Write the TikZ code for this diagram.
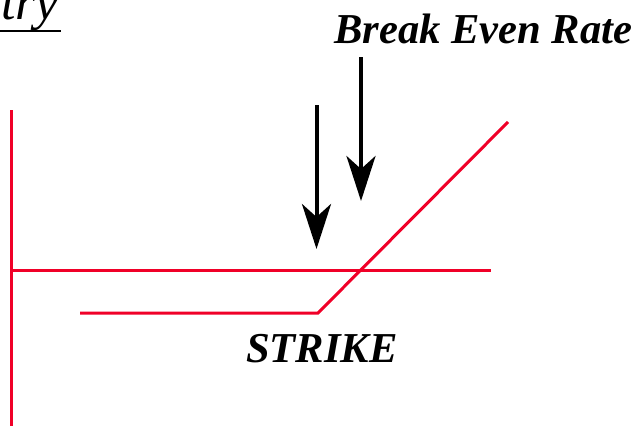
\documentclass[tikz,border=0pt]{standalone}
\usepackage{fontspec}
\setmainfont{Liberation Serif}
\usetikzlibrary{arrows.meta}
\definecolor{payred}{RGB}{240,0,40}
\tikzset{
  payline/.style={draw=payred, line width=3pt},
  downarrow/.style={draw=black, line width=4pt, -{Stealth[length=45pt, width=29pt, inset=13pt]}},
  lbl/.style={font=\fontsize{42.6}{43}\selectfont\bfseries\itshape, inner sep=0pt}
}
\begin{document}
\begin{tikzpicture}[x=1pt, y=-1pt]
\useasboundingbox (0,0) rectangle (637,426);
% title fragment
\node[font=\fontsize{52}{52}\selectfont\itshape, inner sep=0pt, anchor=base east] (title) at (59,19.5) {try};
\coordinate (ulL) at (0,31);
\coordinate (ulR) at (61,31);
\draw[line width=2.5pt] (ulL) -- (ulR);
% axes
\coordinate (vtop) at (11,110);
\coordinate (vbot) at (11,426);
\coordinate (hL) at (11,270);
\coordinate (hR) at (491,270);
\draw[payline] (vtop) -- (vbot);
\draw[payline] (hL) -- (hR);
% payoff
\coordinate (pA) at (80,313);
\coordinate (pK) at (318,313);
\coordinate (pB) at (508,122);
\draw[payline] (pA) -- (pK) -- (pB);
% arrows
\coordinate (a1s) at (316.5,105);
\coordinate (a1e) at (316.5,249);
\coordinate (a2s) at (361,57);
\coordinate (a2e) at (361,201);
\draw[downarrow] (a1s) -- (a1e);
\draw[downarrow] (a2s) -- (a2e);
% labels
\node[lbl, anchor=base west] (ber) at (334,43) {Break Even Rate};
\node[lbl, anchor=base west] (strike) at (246,362) {STRIKE};
\end{tikzpicture}
\end{document}
